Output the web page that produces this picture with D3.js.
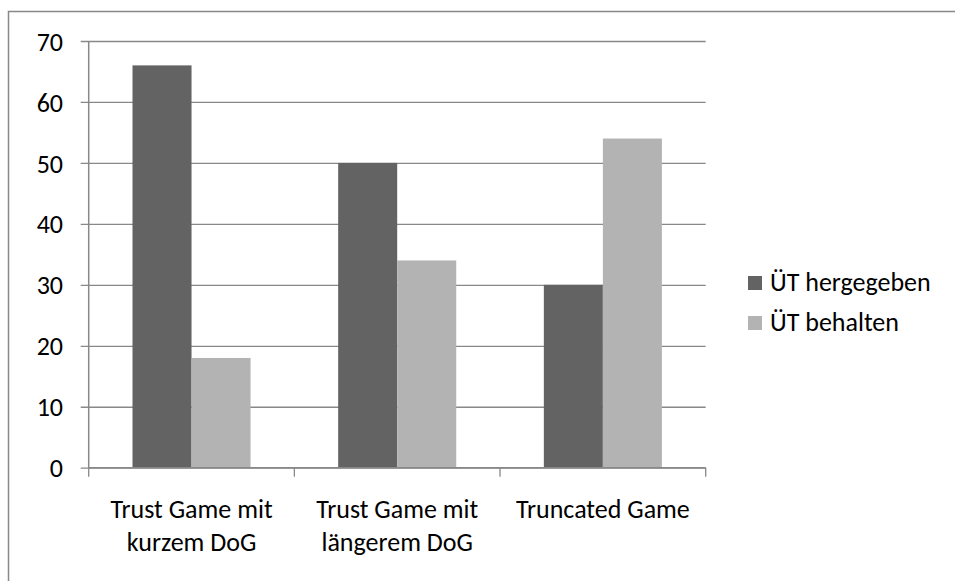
<!DOCTYPE html>
<html>
<head>
<meta charset="utf-8">
<script src="https://cdn.jsdelivr.net/npm/d3@7"></script>
<style>
  body { margin: 0; background: #fff; }
  svg text { font-family: Carlito, Lato, "Open Sans", sans-serif; fill: #000; }
</style>
</head>
<body>
<div id="vis1"></div>
<script>
// data
var categories = [["Trust Game mit", "kurzem DoG"], ["Trust Game mit", "längerem DoG"], ["Truncated Game"]];
var seriesNames = ["ÜT hergegeben", "ÜT behalten"];
var hergegeben = [66, 50, 30];
var behalten = [18, 34, 54];
var yTicks = [0, 10, 20, 30, 40, 50, 60, 70];
var colors = ["#636363", "#b3b3b3"];

var width = 955, height = 581;
var plotLeft = 88.7, plotRight = 705.7, plotTop = 41, plotBottom = 467.7;
var fontSize = 26;

var svg = d3.select("#vis1").append("svg")
    .attr("width", width)
    .attr("height", height);

// outer frame
svg.append("rect")
    .attr("x", 8.5).attr("y", 11.5)
    .attr("width", 960).attr("height", 580)
    .attr("fill", "none")
    .attr("stroke", "#888")
    .attr("stroke-width", 1.5);

var idx = categories.map(function(d, i) { return i; });

var x0 = d3.scaleBand()
    .domain(idx)
    .range([plotLeft, plotRight]);

var gap = 43.8;
var x1 = d3.scaleBand()
    .domain([0, 1])
    .range([gap, x0.bandwidth() - gap]);

var yScale = d3.scaleLinear()
    .domain([0, 70])
    .range([plotBottom, plotTop]);

// gridlines + y axis
var yAxis = d3.axisLeft(yScale)
    .tickValues(yTicks)
    .tickSize(-(plotRight - plotLeft))
    .tickPadding(0)
    .tickFormat(d3.format("d"));

var yAxisCustom = svg.append("g")
    .attr("transform", "translate(" + plotLeft + ",0)")
    .call(yAxis);
yAxisCustom.select(".domain").remove();
yAxisCustom.selectAll(".tick line")
    .attr("x1", -8)
    .attr("stroke", "#888")
    .attr("stroke-width", 1.3);
yAxisCustom.selectAll(".tick text")
    .attr("x", 63 - plotLeft)
    .attr("dy", "0.35em")
    .attr("text-anchor", "end")
    .style("font-size", fontSize + "px")
    .style("font-family", "Carlito, Lato, sans-serif")
    .attr("fill", "#000");

// bars
var rows = idx.map(function(i) { return [hergegeben[i], behalten[i]]; });

var groups = svg.selectAll(".grp")
    .data(rows)
    .enter().append("g")
    .attr("class", "grp")
    .attr("transform", function(d, i) { return "translate(" + x0(i) + ",0)"; });

groups.selectAll("rect")
    .data(function(d) { return d; })
    .enter().append("rect")
    .attr("x", function(d, j) { return x1(j); })
    .attr("width", x1.bandwidth())
    .attr("y", function(d) { return yScale(d); })
    .attr("height", function(d) { return plotBottom - yScale(d); })
    .attr("fill", function(d, j) { return colors[j]; });

// left axis line
svg.append("line")
    .attr("x1", plotLeft).attr("x2", plotLeft)
    .attr("y1", plotTop).attr("y2", plotBottom)
    .attr("stroke", "#888").attr("stroke-width", 1.5);

// x axis with ticks at band edges
svg.append("line")
    .attr("x1", plotLeft).attr("x2", plotRight)
    .attr("y1", plotBottom).attr("y2", plotBottom)
    .attr("stroke", "#888").attr("stroke-width", 1.5);

var edges = idx.map(function(i) { return x0(i); }).concat([plotRight]);
svg.selectAll(".xtick")
    .data(edges)
    .enter().append("line")
    .attr("class", "xtick")
    .attr("x1", function(d) { return d; }).attr("x2", function(d) { return d; })
    .attr("y1", plotBottom).attr("y2", plotBottom + 9)
    .attr("stroke", "#888").attr("stroke-width", 1.3);

// category labels
var labels = svg.selectAll(".xlabel")
    .data(categories)
    .enter().append("text")
    .attr("class", "xlabel")
    .attr("text-anchor", "middle")
    .style("font-size", fontSize + "px");

labels.selectAll("tspan")
    .data(function(d, i) { return d.map(function(t) { return { t: t, i: i }; }); })
    .enter().append("tspan")
    .attr("x", function(d) { return x0(d.i) + x0.bandwidth() / 2; })
    .attr("y", function(d, k) { return 518 + k * 33; })
    .text(function(d) { return d.t; });

// legend
var legend = svg.selectAll(".legend")
    .data(seriesNames)
    .enter().append("g")
    .attr("class", "legend")
    .attr("transform", function(d, i) { return "translate(748," + (276 + i * 40) + ")"; });

legend.append("rect")
    .attr("width", 14).attr("height", 14)
    .attr("fill", function(d, i) { return colors[i]; });

legend.append("text")
    .attr("x", 22)
    .attr("y", 15)
    .style("font-size", fontSize + "px")
    .text(function(d) { return d; });
</script>
</body>
</html>
